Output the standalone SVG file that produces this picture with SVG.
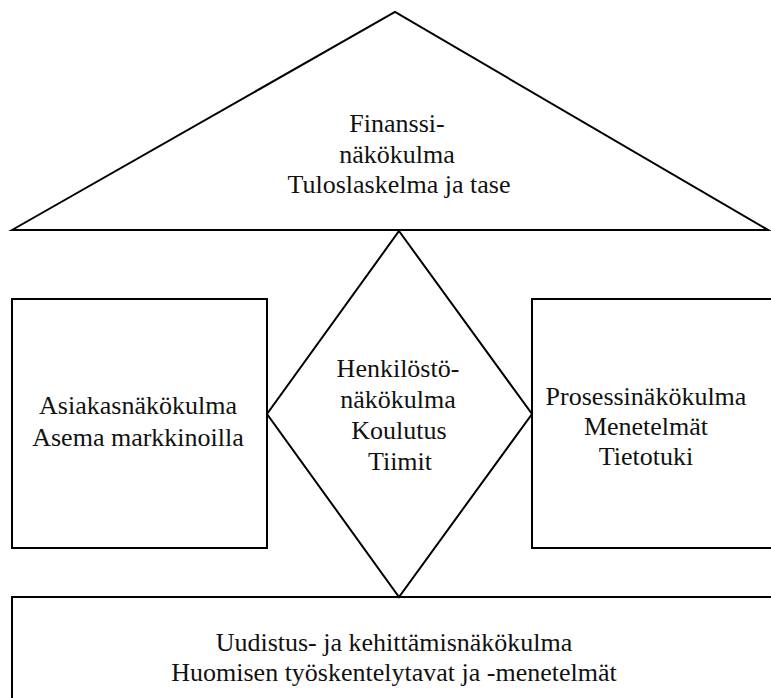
<svg xmlns="http://www.w3.org/2000/svg" width="771" height="698" viewBox="0 0 771 698">
  <style>
    .shape { fill: none; stroke: #000; stroke-width: 2; stroke-linejoin: miter; }
    text { font-family: 'Liberation Serif', 'Times New Roman', Times, 'DejaVu Serif', serif; font-size: 26px; fill: #111; text-anchor: middle; }
  </style>
  <rect x="0" y="0" width="771" height="698" fill="#fff"/>

  <!-- Financial perspective: roof triangle -->
  <g id="finance">
    <polygon class="shape" points="12,230 395,12 768,230"/>
    <text x="397" y="132">Finanssi-</text>
    <text x="397" y="163">näkökulma</text>
    <text x="399" y="193">Tuloslaskelma ja tase</text>
  </g>

  <!-- Customer perspective: left box -->
  <g id="customer">
    <rect class="shape" x="12" y="299" width="255" height="249"/>
    <text x="138" y="414">Asiakasnäkökulma</text>
    <text x="138" y="446">Asema markkinoilla</text>
  </g>

  <!-- Process perspective: right box, open on the right side -->
  <g id="process">
    <rect class="shape" x="532" y="299" width="300" height="249"/>
    <text x="646" y="405">Prosessinäkökulma</text>
    <text x="646" y="435">Menetelmät</text>
    <text x="646" y="465">Tietotuki</text>
  </g>

  <!-- Personnel perspective: central diamond -->
  <g id="personnel">
    <polygon class="shape" points="399,231 532,414 399,597 267,414"/>
    <text x="398" y="377">Henkilöstö-</text>
    <text x="398" y="408">näkökulma</text>
    <text x="399" y="439">Koulutus</text>
    <text x="400" y="470">Tiimit</text>
  </g>

  <!-- Renewal and development perspective: base box -->
  <g id="renewal">
    <rect class="shape" x="12" y="597" width="820" height="200"/>
    <text x="394" y="651">Uudistus- ja kehittämisnäkökulma</text>
    <text x="394" y="681">Huomisen työskentelytavat ja -menetelmät</text>
  </g>
</svg>
